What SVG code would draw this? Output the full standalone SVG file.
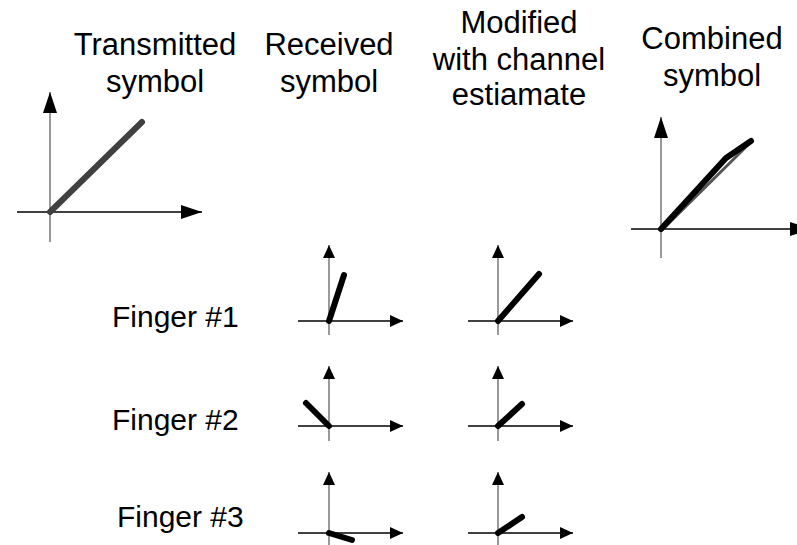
<svg xmlns="http://www.w3.org/2000/svg" width="797" height="545" viewBox="0 0 797 545">
<defs>
<marker id="bigArrow" viewBox="0 0 21 14" markerWidth="21" markerHeight="14" refX="21" refY="7" orient="auto" markerUnits="userSpaceOnUse"><path d="M0,0 L21,7 L0,14 z" fill="#000"/></marker>
<marker id="smallArrow" viewBox="0 0 13 12" markerWidth="13" markerHeight="12" refX="13" refY="6" orient="auto" markerUnits="userSpaceOnUse"><path d="M0,0 L13,6 L0,12 z" fill="#000"/></marker>
<style>
text{font-family:"Liberation Sans",Arial,sans-serif;font-size:30px;fill:#000}
.title{text-anchor:middle;font-size:31px}
.vax{stroke:#777;stroke-width:1.5;fill:none}
.hax{stroke:#000;stroke-width:1.5;fill:none}
.big{marker-end:url(#bigArrow)}
.small{marker-end:url(#smallArrow)}
.vec{stroke:#000;stroke-width:6;stroke-linecap:round;fill:none}
.tvec{stroke:#404040;stroke-width:6;stroke-linecap:round;fill:none}
</style>
</defs>

<g id="titles">
<text class="title" x="155" y="55">Transmitted</text>
<text class="title" x="155" y="92">symbol</text>
<text class="title" x="329" y="55">Received</text>
<text class="title" x="329" y="92">symbol</text>
<text class="title" x="519" y="33">Modified</text>
<text class="title" x="519" y="70">with channel</text>
<text class="title" x="519" y="105">estiamate</text>
<text class="title" x="712" y="49">Combined</text>
<text class="title" x="712" y="86">symbol</text>
</g>

<g id="labels">
<text x="112" y="327">Finger #1</text>
<text x="112" y="430">Finger #2</text>
<text x="117" y="527">Finger #3</text>
</g>

<g id="transmitted">
<line class="vax big" x1="50" y1="242" x2="50" y2="92"/>
<line class="hax big" x1="17" y1="212" x2="202" y2="212"/>
<line class="tvec" x1="50" y1="212" x2="142" y2="122"/>
</g>

<g id="combined">
<line class="vax big" x1="661" y1="258" x2="661" y2="117"/>
<line class="hax big" x1="631" y1="229" x2="811" y2="229"/>
<line x1="662" y1="230" x2="752" y2="141" stroke="#555" stroke-width="3" stroke-linecap="round"/>
<polyline class="vec" stroke-width="5" stroke-linejoin="round" points="661,229 726,158 751,141"/>
</g>

<g id="received-1">
<line class="vax small" x1="329" y1="335" x2="329" y2="245"/>
<line class="hax small" x1="298" y1="321" x2="403" y2="321"/>
<line class="vec" x1="329" y1="321" x2="344" y2="275"/>
</g>
<g id="modified-1">
<line class="vax small" x1="498" y1="335" x2="498" y2="245"/>
<line class="hax small" x1="468" y1="321" x2="573" y2="321"/>
<line class="vec" x1="498" y1="321" x2="539" y2="274"/>
</g>

<g id="received-2">
<line class="vax small" x1="329" y1="441" x2="329" y2="366"/>
<line class="hax small" x1="298" y1="426" x2="403" y2="426"/>
<line class="vec" x1="329" y1="426" x2="306" y2="403"/>
</g>
<g id="modified-2">
<line class="vax small" x1="498" y1="441" x2="498" y2="366"/>
<line class="hax small" x1="468" y1="426" x2="573" y2="426"/>
<line class="vec" x1="498" y1="426" x2="522" y2="404"/>
</g>

<g id="received-3">
<line class="vax small" x1="329" y1="548" x2="329" y2="472"/>
<line class="hax small" x1="298" y1="533" x2="403" y2="533"/>
<line class="vec" x1="329" y1="533" x2="352" y2="540"/>
</g>
<g id="modified-3">
<line class="vax small" x1="498" y1="548" x2="498" y2="472"/>
<line class="hax small" x1="468" y1="533" x2="573" y2="533"/>
<line class="vec" x1="498" y1="533" x2="522" y2="517"/>
</g>
</svg>
